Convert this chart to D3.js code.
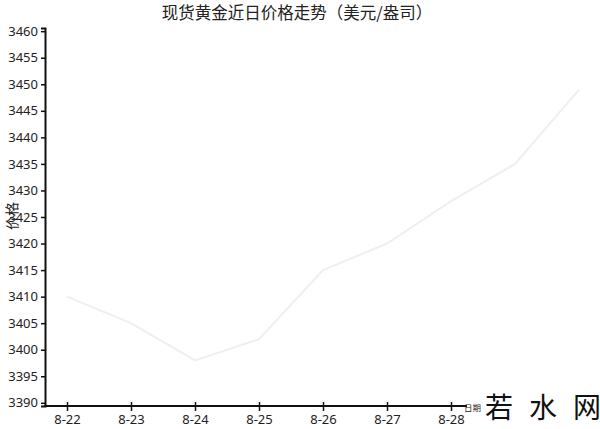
<!DOCTYPE html>
<html><head><meta charset="utf-8">
<script src="https://cdn.jsdelivr.net/npm/d3@7"></script>
<style>body{margin:0;background:#fff;} text{font-family:"Noto Sans","Noto Sans CJK SC",sans-serif;}</style>
</head><body>
<svg id="c" width="600" height="429"></svg>
<script>
const dates = ["8-22","8-23","8-24","8-25","8-26","8-27","8-28","8-29","8-30"];
const prices = [3410,3405,3398,3402,3415,3420,3428,3435,3449];
const axisDates = ["8-22","8-23","8-24","8-25","8-26","8-27","8-28"];
const yTicks = [3390,3395,3400,3405,3410,3415,3420,3425,3430,3435,3440,3445,3450,3455,3460];

const svg = d3.select("#c");
const x = d3.scalePoint().domain(dates).range([67, 579]);
const y = d3.scaleLinear().domain([3389.4, 3460.6]).range([406, 28]);

svg.append("text").attr("x", 297).attr("y", 19).attr("text-anchor","middle")
  .attr("font-size", 16.5).attr("fill","#222")
  .style("font-family","'Noto Sans CJK SC',sans-serif").text("现货黄金近日价格走势（美元/盎司）");

// line
svg.append("path").datum(prices.map((p,i)=>[dates[i],p]))
  .attr("fill","none").attr("stroke","#efeef4").attr("stroke-width",2)
  .attr("d", d3.line().x(d=>x(d[0])).y(d=>y(d[1])));

// y axis
const ya = svg.append("g").attr("transform","translate(45,0)")
  .call(d3.axisLeft(y).tickValues(yTicks).tickSize(4).tickPadding(3).tickFormat(d3.format("d")));
ya.select(".domain").attr("stroke","#111").attr("stroke-width",2);
ya.selectAll(".tick line").attr("stroke","#111").attr("stroke-width",1.5);
ya.selectAll("text").attr("font-size",13).attr("fill","#222");

// x axis
const xa = svg.append("g").attr("transform","translate(0,406)")
  .call(d3.axisBottom(x).tickValues(axisDates).tickSize(5).tickPadding(4));
xa.select(".domain").remove();
xa.append("line").attr("x1",44).attr("x2",467).attr("y1",0).attr("y2",0)
  .attr("stroke","#111").attr("stroke-width",2);
xa.selectAll(".tick line").attr("stroke","#111").attr("stroke-width",1.5).attr("y1",-4);
xa.selectAll("text").attr("font-size",13).attr("fill","#222");

// axis names
svg.append("text").attr("transform","translate(17,216) rotate(-90)").attr("text-anchor","middle")
  .attr("font-size",14).attr("fill","#222").style("font-family","'Noto Sans CJK SC',sans-serif").text("价格");
svg.append("text").attr("x",464).attr("y",411).attr("font-size",8.5).attr("fill","#222")
  .style("font-family","'Noto Sans CJK SC',sans-serif").text("日期");

// watermark
const wm = ["若","水","网"];
wm.forEach((c,i)=>{
  svg.append("text").attr("x",499+i*44).attr("y",418).attr("text-anchor","middle")
    .attr("font-size",28).attr("fill","#111").style("font-family","'Noto Sans CJK SC',sans-serif").text(c);
});
</script>
</body></html>
